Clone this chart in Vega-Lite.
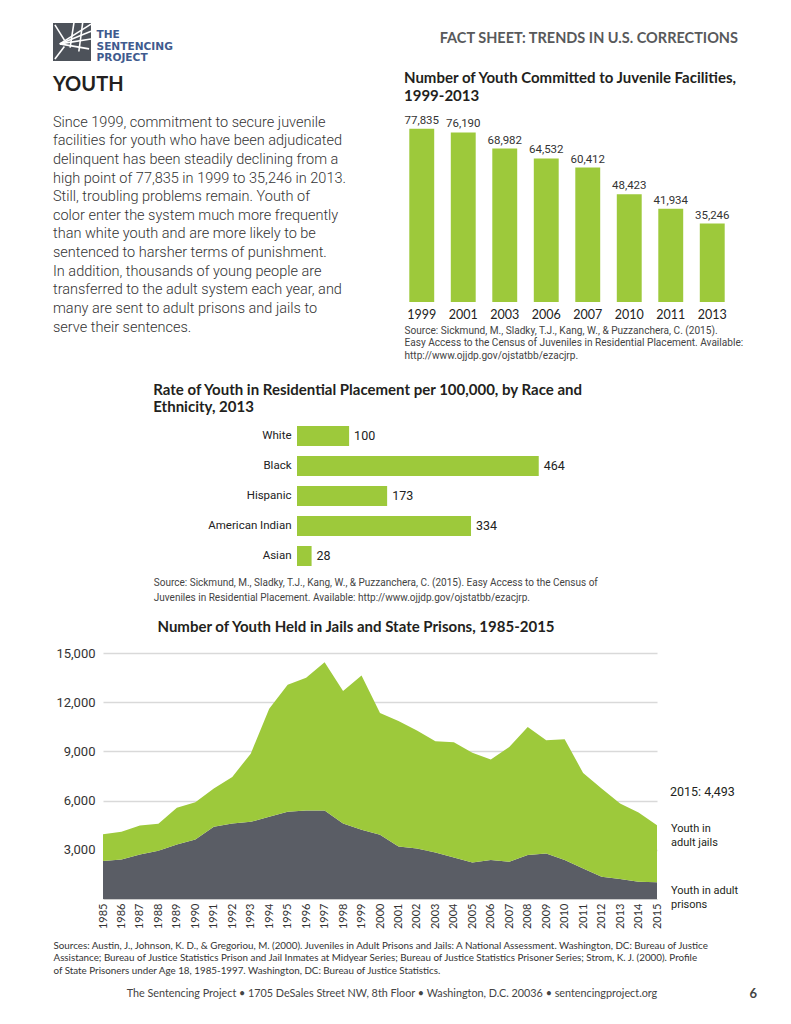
{
  "$schema": "https://vega.github.io/schema/vega-lite/v6.json",
  "background": "white",
  "padding": {"left": 38, "top": 22, "right": 10, "bottom": 10},
  "bounds": "flush",
  "spacing": 0,
  "config": {
    "view": {"stroke": null},
    "font": "Roboto",
    "title": {"font": "Lato", "fontWeight": "bold", "color": "#231f20", "fontSize": 15, "anchor": "start", "frame": "group"},
    "axis": {"labelFont": "Roboto", "titleFont": "Roboto", "labelColor": "#333333", "ticks": false, "domain": false, "grid": false}
  },
  "datasets": {
    "youth": [
      {"year": 1985, "prisons": 2312, "jails": 1643},
      {"year": 1986, "prisons": 2414, "jails": 1683},
      {"year": 1987, "prisons": 2718, "jails": 1765},
      {"year": 1988, "prisons": 2941, "jails": 1643},
      {"year": 1989, "prisons": 3326, "jails": 2231},
      {"year": 1990, "prisons": 3630, "jails": 2272},
      {"year": 1991, "prisons": 4401, "jails": 2334},
      {"year": 1992, "prisons": 4604, "jails": 2839},
      {"year": 1993, "prisons": 4705, "jails": 4159},
      {"year": 1994, "prisons": 5009, "jails": 6594},
      {"year": 1995, "prisons": 5314, "jails": 7749},
      {"year": 1996, "prisons": 5395, "jails": 8094},
      {"year": 1997, "prisons": 5395, "jails": 9047},
      {"year": 1998, "prisons": 4604, "jails": 8073},
      {"year": 1999, "prisons": 4219, "jails": 9411},
      {"year": 2000, "prisons": 3915, "jails": 7424},
      {"year": 2001, "prisons": 3200, "jails": 7650},
      {"year": 2002, "prisons": 3080, "jails": 7200},
      {"year": 2003, "prisons": 2840, "jails": 6774},
      {"year": 2004, "prisons": 2535, "jails": 7018},
      {"year": 2005, "prisons": 2231, "jails": 6694},
      {"year": 2006, "prisons": 2373, "jails": 6128},
      {"year": 2007, "prisons": 2272, "jails": 6996},
      {"year": 2008, "prisons": 2677, "jails": 7808},
      {"year": 2009, "prisons": 2779, "jails": 6896},
      {"year": 2010, "prisons": 2373, "jails": 7363},
      {"year": 2011, "prisons": 1867, "jails": 5820},
      {"year": 2012, "prisons": 1359, "jails": 5374},
      {"year": 2013, "prisons": 1217, "jails": 4605},
      {"year": 2014, "prisons": 1055, "jails": 4219},
      {"year": 2015, "prisons": 1014, "jails": 3479}
    ]
  },
  "vconcat": [
    {
      "bounds": "flush",
      "spacing": 0,
      "hconcat": [
        {
          "width": 38,
          "height": 38,
          "title": {
            "text": "YOUTH",
            "orient": "bottom",
            "anchor": "start",
            "baseline": "top",
            "fontSize": 20,
            "offset": 12,
            "subtitle": [
              "Since 1999, commitment to secure juvenile",
              "facilities for youth who have been adjudicated",
              "delinquent has been steadily declining from a",
              "high point of 77,835 in 1999 to 35,246 in 2013.",
              "Still, troubling problems remain. Youth of",
              "color enter the system much more frequently",
              "than white youth and are more likely to be",
              "sentenced to harsher terms of punishment.",
              "In addition, thousands of young people are",
              "transferred to the adult system each year, and",
              "many are sent to adult prisons and jails to",
              "serve their sentences."
            ],
            "subtitleFont": "Roboto",
            "subtitleFontSize": 14.5,
            "subtitleFontWeight": 300,
            "subtitleColor": "#333333",
            "subtitleLineHeight": 18.64,
            "subtitlePadding": 21
          },
          "layer": [
            {
              "data": {"values": [{"w": "logo"}]},
              "mark": {"type": "rect", "color": "#4d525a"},
              "encoding": {}
            },
            {
              "data": {"values": [
                {"x": 0.18, "y": 0.45, "x2": 1, "y2": 0.97},
                {"x": 0.18, "y": 0.45, "x2": 1, "y2": 0.78},
                {"x": 0.18, "y": 0.45, "x2": 1, "y2": 0.58},
                {"x": 0.18, "y": 0.45, "x2": 0.95, "y2": 0.32},
                {"x": 0.55, "y": 1, "x2": 0.45, "y2": 0.35},
                {"x": 0.78, "y": 1, "x2": 0.68, "y2": 0.25},
                {"x": 0.05, "y": 0.95, "x2": 0.3, "y2": 0.55},
                {"x": 0.05, "y": 0.05, "x2": 0.3, "y2": 0.38}
              ]},
              "mark": {"type": "rule", "color": "white", "strokeWidth": 1.6},
              "encoding": {
                "x": {"field": "x", "type": "quantitative", "scale": {"domain": [0, 1]}, "axis": null},
                "y": {"field": "y", "type": "quantitative", "scale": {"domain": [0, 1]}, "axis": null},
                "x2": {"field": "x2"},
                "y2": {"field": "y2"}
              }
            },
            {
              "data": {"values": [{"w": "THE"}, {"w": "SENTENCING"}, {"w": "PROJECT"}]},
              "mark": {"type": "text", "opacity": 0},
              "encoding": {
                "y": {
                  "field": "w", "type": "nominal", "sort": null,
                  "scale": {"padding": 0.727},
                  "axis": {"orient": "right", "title": null, "labelFont": "DejaVu Sans", "labelFontWeight": "bold", "labelFontSize": 10.6, "labelColor": "#3f5b8e", "labelPadding": 5, "labelOffset": 4}
                },
                "text": {"field": "w"}
              }
            }
          ],
          "resolve": {"scale": {"y": "independent", "x": "independent"}, "axis": {"y": "independent"}}
        },
        {"width": 312, "height": 38, "data": {"values": []}, "mark": "point"},
        {
          "width": 335,
          "height": 9,
          "data": {"values": []},
          "mark": "point",
          "title": {"text": "FACT SHEET: TRENDS IN U.S. CORRECTIONS", "orient": "bottom", "anchor": "end", "baseline": "top", "offset": 0, "fontSize": 14.5, "color": "#58595b"}
        }
      ]
    },
    {"width": 1, "height": 100.4, "data": {"values": []}, "mark": "point"},
    {
      "bounds": "flush",
      "spacing": 0,
      "hconcat": [
        {"width": 348, "height": 1, "data": {"values": []}, "mark": "point"},
        {
          "width": 332,
          "height": 178,
          "data": {"values": [
            {"year": "1999", "count": 77835},
            {"year": "2001", "count": 76190},
            {"year": "2003", "count": 68982},
            {"year": "2006", "count": 64532},
            {"year": "2007", "count": 60412},
            {"year": "2010", "count": 48423},
            {"year": "2011", "count": 41934},
            {"year": "2013", "count": 35246}
          ]},
          "title": {"text": ["Number of Youth Committed to Juvenile Facilities,", "1999-2013"], "anchor": "start", "dx": 3, "offset": 11, "lineHeight": 18},
          "encoding": {
            "x": {
              "field": "year", "type": "nominal", "sort": null,
              "scale": {"paddingInner": 0.4, "paddingOuter": 0.2},
              "axis": {
                "labelAngle": 0, "labelFont": "Lato", "labelFontSize": 12.5, "labelColor": "#222222", "labelPadding": 6,
                "title": [
                  "Source: Sickmund, M., Sladky, T.J., Kang, W., & Puzzanchera, C. (2015).",
                  "Easy Access to the Census of Juveniles in Residential Placement. Available:",
                  "http://www.ojjdp.gov/ojstatbb/ezacjrp."
                ],
                "titleFontSize": 10.1, "titleFontWeight": "normal", "titleColor": "#444444",
                "titleAnchor": "start", "titleAlign": "left", "titleBaseline": "top",
                "titleX": 3, "titleY": 23, "titleLineHeight": 12.7
              }
            },
            "y": {"field": "count", "type": "quantitative", "scale": {"domain": [0, 80000]}, "axis": null}
          },
          "layer": [
            {"mark": {"type": "bar", "color": "#9dc93b"}},
            {
              "mark": {"type": "text", "baseline": "bottom", "dy": -3, "fontSize": 11.5, "color": "#333333"},
              "encoding": {"text": {"field": "count", "type": "quantitative", "format": ","}}
            }
          ]
        }
      ]
    },
    {"width": 1, "height": 296.3, "data": {"values": []}, "mark": "point"},
    {
      "bounds": "flush",
      "spacing": 0,
      "hconcat": [
        {"width": 243.7, "height": 1, "data": {"values": []}, "mark": "point"},
        {
          "width": 260.5,
          "height": 150,
          "data": {"values": [
            {"race": "White", "rate": 100},
            {"race": "Black", "rate": 464},
            {"race": "Hispanic", "rate": 173},
            {"race": "American Indian", "rate": 334},
            {"race": "Asian", "rate": 28}
          ]},
          "title": {"text": ["Rate of Youth in Residential Placement per 100,000, by Race and", "Ethnicity, 2013"], "anchor": "start", "dx": -143.7, "offset": 6, "lineHeight": 17},
          "encoding": {
            "y": {
              "field": "race", "type": "nominal", "sort": null,
              "scale": {"paddingInner": 0.333, "paddingOuter": 0.1667},
              "axis": {"labelFontSize": 11.5, "labelColor": "#222222", "labelPadding": 6, "title": null}
            },
            "x": {
              "field": "rate", "type": "quantitative", "scale": {"domain": [0, 500]},
              "axis": {
                "labels": false,
                "title": [
                  "Source: Sickmund, M., Sladky, T.J., Kang, W., & Puzzanchera, C. (2015). Easy Access to the Census of",
                  "Juveniles in Residential Placement. Available: http://www.ojjdp.gov/ojstatbb/ezacjrp."
                ],
                "titleFontSize": 10, "titleFontWeight": "normal", "titleColor": "#444444",
                "titleAnchor": "start", "titleAlign": "left", "titleBaseline": "top",
                "titleX": -143.7, "titleY": 6, "titleLineHeight": 15
              }
            }
          },
          "layer": [
            {"mark": {"type": "bar", "color": "#9dc93b"}},
            {
              "mark": {"type": "text", "align": "left", "dx": 5, "fontSize": 12.5, "color": "#222222"},
              "encoding": {"text": {"field": "rate", "type": "quantitative"}}
            }
          ]
        }
      ]
    },
    {"width": 1, "height": 231.5, "data": {"values": []}, "mark": "point"},
    {
      "bounds": "flush",
      "spacing": 0,
      "hconcat": [
        {"width": 50, "height": 1, "data": {"values": []}, "mark": "point"},
        {
          "width": 554,
          "height": 246,
          "title": {"text": "Number of Youth Held in Jails and State Prisons, 1985-2015", "anchor": "middle", "dx": -24, "offset": 12},
          "layer": [
            {
              "data": {"name": "youth"},
              "transform": [{"fold": ["prisons", "jails"], "as": ["series", "count"]}],
              "mark": {"type": "area"},
              "encoding": {
                "x": {
                  "field": "year", "type": "ordinal",
                  "scale": {"type": "point", "padding": 0},
                  "axis": {
                    "labelAngle": -90, "labelOverlap": false, "labelFont": "Lato", "labelFontSize": 11, "labelColor": "#333333", "labelPadding": 4,
                    "domain": true, "domainColor": "#cccccc",
                    "title": [
                      "Sources: Austin, J., Johnson, K. D., & Gregoriou, M. (2000). Juveniles in Adult Prisons and Jails: A National Assessment. Washington, DC: Bureau of Justice",
                      "Assistance; Bureau of Justice Statistics Prison and Jail Inmates at Midyear Series; Bureau of Justice Statistics Prisoner Series; Strom, K. J. (2000). Profile",
                      "of State Prisoners under Age 18, 1985-1997. Washington, DC: Bureau of Justice Statistics."
                    ],
                    "titleFont": "Lato", "titleFontSize": 9.8, "titleFontWeight": "normal", "titleColor": "#333333",
                    "titleAnchor": "start", "titleAlign": "left", "titleBaseline": "top",
                    "titleX": -50, "titleY": 41, "titleLineHeight": 12.5
                  }
                },
                "y": {
                  "field": "count", "type": "quantitative", "stack": "zero",
                  "scale": {"domain": [0, 15000], "nice": false},
                  "axis": {"values": [3000, 6000, 9000, 12000, 15000], "format": ",d", "grid": true, "gridColor": "#d9d9d9", "gridWidth": 1.5, "labelFontSize": 13, "labelPadding": 8, "title": null}
                },
                "color": {"field": "series", "type": "nominal", "scale": {"domain": ["jails", "prisons"], "range": ["#9dc93b", "#5a5d65"]}, "legend": null},
                "order": {"field": "series", "sort": "descending"}
              }
            },
            {
              "data": {"values": [{"year": 2015, "count": 4493, "note": "2015: 4,493"}]},
              "mark": {"type": "text", "align": "left", "baseline": "middle", "dx": 13, "dy": -33, "fontSize": 12.5, "color": "#231f20"},
              "encoding": {
                "x": {"field": "year", "type": "ordinal"},
                "y": {"field": "count", "type": "quantitative"},
                "text": {"field": "note"}
              }
            },
            {
              "data": {"values": [{"year": 2015, "count": 4493, "note": "Youth in\nadult jails"}]},
              "mark": {"type": "text", "align": "left", "baseline": "middle", "lineBreak": "\n", "lineHeight": 13.5, "dx": 14, "dy": 4, "fontSize": 11, "color": "#231f20"},
              "encoding": {
                "x": {"field": "year", "type": "ordinal"},
                "y": {"field": "count", "type": "quantitative"},
                "text": {"field": "note"}
              }
            },
            {
              "data": {"values": [{"year": 2015, "count": 0, "note": "Youth in adult\nprisons"}]},
              "mark": {"type": "text", "align": "left", "baseline": "middle", "lineBreak": "\n", "lineHeight": 13.5, "dx": 14, "dy": -8, "fontSize": 11, "color": "#231f20"},
              "encoding": {
                "x": {"field": "year", "type": "ordinal"},
                "y": {"field": "count", "type": "quantitative"},
                "text": {"field": "note"}
              }
            }
          ]
        }
      ]
    },
    {"width": 1, "height": 334, "data": {"values": []}, "mark": "point"},
    {
      "bounds": "flush",
      "spacing": 0,
      "hconcat": [
        {
          "width": 678, "height": 1, "data": {"values": []}, "mark": "point",
          "title": {"text": "The Sentencing Project • 1705 DeSales Street NW, 8th Floor • Washington, D.C. 20036 • sentencingproject.org", "orient": "bottom", "anchor": "middle", "baseline": "top", "offset": 0, "font": "Lato", "fontSize": 10.8, "fontWeight": "normal", "color": "#444444"}
        },
        {
          "width": 26, "height": 1, "data": {"values": []}, "mark": "point",
          "title": {"text": "6", "orient": "bottom", "anchor": "end", "baseline": "top", "offset": 0, "fontSize": 13, "color": "#444444"}
        }
      ]
    }
  ]
}
